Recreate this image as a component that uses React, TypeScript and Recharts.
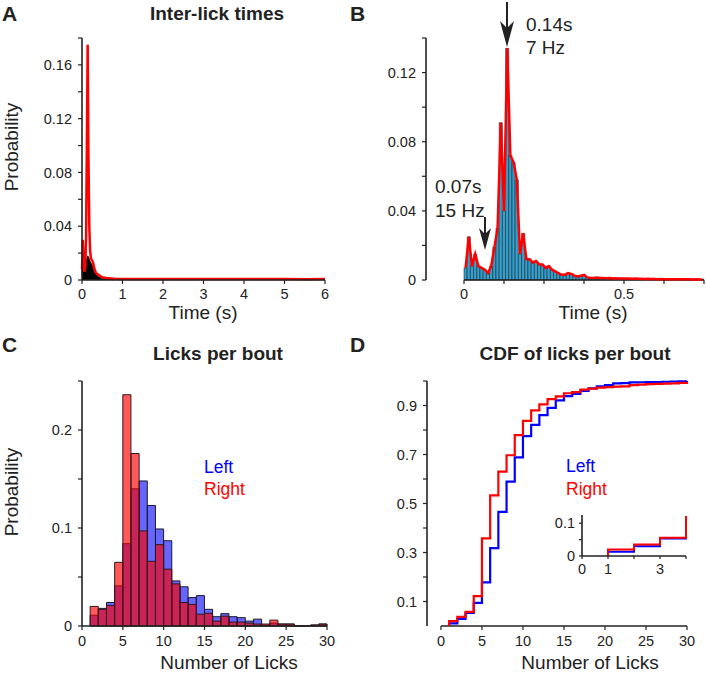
import React from 'react'
import { ComposedChart, LineChart, Bar, Line, Area, XAxis, YAxis, ReferenceLine } from 'recharts'

const FONT = 'Arial, "Liberation Sans", Helvetica, sans-serif'
const INK = '#222'
const RED = '#ff0000'
const BLUE = '#0000ff'

// A: inter-lick times over the full 0-6 s range
const ilTime = [0, 0.02, 0.04, 0.06, 0.08, 0.1, 0.12, 0.14, 0.16, 0.18, 0.2, 0.22, 0.24, 0.26, 0.28, 0.3, 0.32, 0.35, 0.4, 0.45, 0.5, 0.6, 0.8, 1, 1.5, 2, 2.5, 3, 3.5, 4, 4.5, 5, 5.5, 6]
const ilProb = [0.008, 0.03, 0.012, 0.006, 0.01, 0.03, 0.1, 0.175, 0.09, 0.04, 0.022, 0.016, 0.015, 0.014, 0.012, 0.009, 0.007, 0.005, 0.004, 0.003, 0.002, 0.0015, 0.001, 0.0008, 0.0008, 0.0007, 0.0008, 0.0007, 0.0007, 0.0008, 0.0007, 0.0008, 0.0006, 0.0007]
const ilHistTime = [0, 0.02, 0.04, 0.06, 0.08, 0.1, 0.12, 0.14, 0.16, 0.18, 0.2, 0.22, 0.24, 0.26, 0.28, 0.3, 0.34, 0.38, 0.42, 0.5, 0.6, 0.8]
const ilHistProb = [0.004, 0.018, 0.012, 0.008, 0.01, 0.013, 0.016, 0.018, 0.017, 0.015, 0.014, 0.012, 0.012, 0.01, 0.008, 0.006, 0.004, 0.003, 0.002, 0.001, 0.0005, 0.0002]
const aXTicks = [0, 1, 2, 3, 4, 5, 6]
const aYTicks = [0, 0.02, 0.04, 0.06, 0.08, 0.1, 0.12, 0.14, 0.16, 0.18]
const aYLabels = ['0', '', '0.04', '', '0.08', '', '0.12', '', '0.16', '']

// B: zoom on 0-0.75 s, 10 ms bins (centres in ms)
const binMs = [5, 15, 25, 35, 45, 55, 65, 75, 85, 95, 105, 115, 125, 135, 145, 155, 165, 175, 185, 195, 205, 215, 225, 235, 245, 255, 265, 275, 285, 295, 305, 315, 325, 335, 345, 355, 365, 375, 385, 395, 405, 415, 425, 435, 445, 455, 465, 475, 485, 495, 505, 515, 525, 535, 545, 555, 565, 575, 585, 595, 605, 615, 625, 635, 645, 655, 665, 675, 685, 695, 705, 715, 725, 735, 745]
const binProb = [0.007, 0.025, 0.008, 0.015, 0.008, 0.007, 0.006, 0.004, 0.008, 0.019, 0.03, 0.091, 0.04, 0.134, 0.072, 0.068, 0.058, 0.015, 0.027, 0.012, 0.012, 0.01, 0.011, 0.009, 0.009, 0.007, 0.008, 0.006, 0.005, 0.004, 0.003, 0.003, 0.004, 0.0035, 0.0025, 0.002, 0.0025, 0.003, 0.0015, 0.0013, 0.0012, 0.0014, 0.0011, 0.0012, 0.001, 0.0011, 0.0009, 0.001, 0.0009, 0.0008, 0.0009, 0.0008, 0.0007, 0.0008, 0.0007, 0.0007, 0.0006, 0.0007, 0.0006, 0.0006, 0.0005, 0.0006, 0.0005, 0.0005, 0.0005, 0.0004, 0.0005, 0.0004, 0.0004, 0.0004, 0.0004, 0.0003, 0.0004, 0.0003, 0.0003]
const bXTicks = [0, 0.125, 0.25, 0.375, 0.5, 0.625, 0.75]
const bXLabels = ['0', '', '', '', '0.5', '', '']
const bYTicks = [0, 0.02, 0.04, 0.06, 0.08, 0.1, 0.12, 0.14]
const bYLabels = ['0', '', '0.04', '', '0.08', '', '0.12', '']

// C: licks per bout histogram (bin centres)
const lickBins = [1.5, 2.5, 3.5, 4.5, 5.5, 6.5, 7.5, 8.5, 9.5, 10.5, 11.5, 12.5, 13.5, 14.5, 15.5, 16.5, 17.5, 18.5, 19.5, 20.5, 21.5, 22.5, 23.5, 24.5, 25.5, 26.5, 27.5, 28.5, 29.5]
const leftProb = [0.011, 0.018, 0.024, 0.041, 0.084, 0.14, 0.148, 0.123, 0.099, 0.087, 0.046, 0.04, 0.029, 0.031, 0.017, 0.0095, 0.0126, 0.0095, 0.0085, 0.005, 0.007, 0.001, 0.003, 0.002, 0.002, 0.0003, 0.0005, 0.001, 0.002]
const rightProb = [0.02, 0.017, 0.021, 0.065, 0.236, 0.176, 0.097, 0.066, 0.083, 0.058, 0.043, 0.024, 0.022, 0.012, 0.013, 0.005, 0.01, 0.004, 0.004, 0.003, 0.002, 0.002, 0.006, 0.002, 0.002, 0.0003, 0.0005, 0.001, 0.002]
const lickTicks = [0, 5, 10, 15, 20, 25, 30]
const cYTicks = [0, 0.05, 0.1, 0.15, 0.2, 0.25]
const cYLabels = ['0', '', '0.1', '', '0.2', '']

// D: CDF of licks per bout
const cdfX = [1, 1, 2, 3, 4, 5, 6, 7, 8, 9, 10, 11, 12, 13, 14, 15, 16, 17, 18, 19, 20, 21, 22, 23, 24, 25, 26, 27, 28, 29, 30]
const cdfLeft = [0, 0.011, 0.029, 0.053, 0.094, 0.178, 0.318, 0.466, 0.589, 0.688, 0.775, 0.821, 0.861, 0.89, 0.921, 0.938, 0.947, 0.96, 0.97, 0.978, 0.983, 0.99, 0.991, 0.994, 0.995, 0.996, 0.996, 0.997, 0.998, 0.999, 1.0]
const cdfRight = [0, 0.02, 0.037, 0.058, 0.122, 0.358, 0.533, 0.63, 0.697, 0.779, 0.837, 0.88, 0.905, 0.926, 0.937, 0.95, 0.955, 0.965, 0.969, 0.973, 0.975, 0.977, 0.978, 0.983, 0.985, 0.987, 0.988, 0.989, 0.99, 0.992, 0.995]
const dYTicks = [0.1, 0.2, 0.3, 0.4, 0.5, 0.6, 0.7, 0.8, 0.9, 1]
const dYLabels = ['0.1', '', '0.3', '', '0.5', '', '0.7', '', '0.9', '']
const insetX = [1, 1, 2, 3, 4]
const insetLeft = [0, 0.013, 0.03, 0.053, 0.094]
const insetRight = [0, 0.02, 0.035, 0.056, 0.122]
const insetXTicks = [0, 1, 2, 3, 4]
const insetXLabels = ['0', '1', '', '3', '']
const insetYTicks = [0, 0.05, 0.1]
const insetYLabels = ['0', '', '0.1']

const fmt = (ticks: number[], labels: string[]) => (v: number) => labels[ticks.indexOf(v)] ?? ''

const axisLine = { stroke: INK, strokeWidth: 1.6 }
const tickLine = { stroke: INK, strokeWidth: 1.2 }
const tick = { fontSize: 14.5, fill: INK }

function PanelA() {
  const hist = ilHistTime.map((t, i) => ({ t, p: ilHistProb[i] }))
  const line = ilTime.map((t, i) => ({ t, p: ilProb[i] }))
  return (
    <ComposedChart width={345} height={310} margin={{ top: 38, right: 20, bottom: 0, left: 0 }}>
      <XAxis type="number" dataKey="t" domain={[0, 6]} ticks={aXTicks} interval={0} height={30}
        tickSize={4} tickMargin={5} axisLine={axisLine} tickLine={tickLine} tick={tick} />
      <YAxis type="number" domain={[0, 0.18]} ticks={aYTicks} interval={0} width={82}
        tickSize={4} tickMargin={6} axisLine={axisLine} tickLine={tickLine} tick={tick}
        tickFormatter={fmt(aYTicks, aYLabels)} />
      <Area data={hist} dataKey="p" type="linear" stroke="#000" strokeWidth={1} fill="#000" fillOpacity={1} isAnimationActive={false} />
      <Line data={line} dataKey="p" type="linear" stroke={RED} strokeWidth={2.5} dot={false} isAnimationActive={false} />
    </ComposedChart>
  )
}

function PanelB() {
  const data = binMs.map((ms, i) => ({ t: ms / 1000, p: binProb[i] }))
  return (
    <ComposedChart width={366} height={310} data={data} margin={{ top: 38, right: 2, bottom: 0, left: 0 }}>
      <XAxis type="number" dataKey="t" domain={[-0.11875, 0.75]} ticks={bXTicks} interval={0} height={30}
        tickSize={4} tickMargin={5} axisLine={false} tickLine={tickLine} tick={tick}
        tickFormatter={fmt(bXTicks, bXLabels)} />
      <YAxis type="number" domain={[0, 0.14]} ticks={bYTicks} interval={0} width={86}
        tickSize={4} tickMargin={6} axisLine={axisLine} tickLine={tickLine} tick={tick}
        tickFormatter={fmt(bYTicks, bYLabels)} />
      <ReferenceLine segment={[{ x: 0, y: 0 }, { x: 0.75, y: 0 }]} stroke={INK} strokeWidth={1.6} />
      <Bar dataKey="p" barSize={3.15} fill="#33a1d0" stroke="#111" strokeWidth={0.5} isAnimationActive={false} />
      <Line dataKey="p" type="linear" stroke={RED} strokeWidth={2.5} dot={false} isAnimationActive={false} />
    </ComposedChart>
  )
}

function PanelC() {
  const data = lickBins.map((x, i) => ({ x, left: leftProb[i], right: rightProb[i] }))
  return (
    <ComposedChart width={345} height={326} data={data} margin={{ top: 51, right: 18, bottom: 0, left: 0 }}>
      <XAxis xAxisId="l" type="number" dataKey="x" domain={[0, 30]} ticks={lickTicks} interval={0} height={30}
        tickSize={4} tickMargin={6} axisLine={axisLine} tickLine={tickLine} tick={tick} />
      <XAxis xAxisId="r" type="number" dataKey="x" domain={[0, 30]} hide />
      <YAxis type="number" domain={[0, 0.25]} ticks={cYTicks} interval={0} width={82}
        tickSize={4} tickMargin={6} axisLine={axisLine} tickLine={tickLine} tick={tick}
        tickFormatter={fmt(cYTicks, cYLabels)} />
      <Bar xAxisId="l" dataKey="left" barSize={8.1} fill={BLUE} fillOpacity={0.6} stroke="#1a1a2a" strokeWidth={1} isAnimationActive={false} />
      <Bar xAxisId="r" dataKey="right" barSize={8.1} fill={RED} fillOpacity={0.65} stroke="#2a1a1a" strokeWidth={1} isAnimationActive={false} />
    </ComposedChart>
  )
}

function PanelD() {
  const data = cdfX.map((x, i) => ({ x, left: cdfLeft[i], right: cdfRight[i] }))
  return (
    <LineChart width={366} height={326} data={data} margin={{ top: 51, right: 19, bottom: 0, left: 0 }}>
      <XAxis type="number" dataKey="x" domain={[-1.7, 30]} ticks={lickTicks} interval={0} height={30}
        tickSize={4} tickMargin={6} axisLine={false} tickLine={tickLine} tick={tick} />
      <YAxis type="number" domain={[0, 1]} ticks={dYTicks} interval={0} width={87}
        tickSize={4} tickMargin={6} axisLine={axisLine} tickLine={tickLine} tick={tick}
        tickFormatter={fmt(dYTicks, dYLabels)} />
      <ReferenceLine segment={[{ x: 0, y: 0 }, { x: 30, y: 0 }]} stroke={INK} strokeWidth={1.6} />
      <Line dataKey="left" type="stepAfter" stroke={BLUE} strokeWidth={2.2} dot={false} isAnimationActive={false} />
      <Line dataKey="right" type="stepAfter" stroke={RED} strokeWidth={2.2} dot={false} isAnimationActive={false} />
    </LineChart>
  )
}

function Inset() {
  const data = insetX.map((x, i) => ({ x, left: insetLeft[i], right: insetRight[i] }))
  return (
    <LineChart width={166} height={86} data={data} margin={{ top: 15, right: 20, bottom: 0, left: 0 }}>
      <XAxis type="number" dataKey="x" domain={[0, 4]} ticks={insetXTicks} interval={0} height={30}
        tickSize={3} tickMargin={5} axisLine={axisLine} tickLine={tickLine} tick={tick}
        tickFormatter={fmt(insetXTicks, insetXLabels)} />
      <YAxis type="number" domain={[0, 0.125]} ticks={insetYTicks} interval={0} width={42}
        tickSize={3} tickMargin={4} axisLine={axisLine} tickLine={tickLine} tick={tick}
        tickFormatter={fmt(insetYTicks, insetYLabels)} />
      <Line dataKey="left" type="stepAfter" stroke={BLUE} strokeWidth={2} dot={false} isAnimationActive={false} />
      <Line dataKey="right" type="stepAfter" stroke={RED} strokeWidth={2} dot={false} isAnimationActive={false} />
    </LineChart>
  )
}

const at = (left: number, top: number): React.CSSProperties => ({ position: 'absolute', left, top })

export default function App() {
  return (
    <div style={{ position: 'absolute', left: 0, top: 0, width: 706, height: 676, background: '#fff', fontFamily: FONT, color: INK }}>
      <div style={at(0, 0)}><PanelA /></div>
      <div style={at(340, 0)}><PanelB /></div>
      <div style={at(0, 330)}><PanelC /></div>
      <div style={at(340, 330)}><PanelD /></div>
      <div style={at(540, 500)}><Inset /></div>
      <svg width={706} height={676} style={{ position: 'absolute', left: 0, top: 0, pointerEvents: 'none' }} fontFamily={FONT} fill={INK}>
        <g fontSize={21} fontWeight="bold">
          <text x={2} y={21}>A</text>
          <text x={350} y={21}>B</text>
          <text x={2} y={352}>C</text>
          <text x={350} y={352}>D</text>
        </g>
        <g fontSize={19} fontWeight="bold" textAnchor="middle">
          <text x={217} y={20}>Inter-lick times</text>
          <text x={218} y={360}>Licks per bout</text>
          <text x={575} y={360}>CDF of licks per bout</text>
        </g>
        <g fontSize={19} textAnchor="middle">
          <text transform="translate(18,147) rotate(-90)">Probability</text>
          <text transform="translate(18,492) rotate(-90)">Probability</text>
          <text x={203} y={319}>Time (s)</text>
          <text x={593} y={319}>Time (s)</text>
          <text x={229} y={669}>Number of Licks</text>
          <text x={590} y={669}>Number of Licks</text>
        </g>
        <g fontSize={17.5}>
          <text x={204} y={473} fill={BLUE}>Left</text>
          <text x={204} y={495} fill={RED}>Right</text>
          <text x={566} y={472} fill={BLUE}>Left</text>
          <text x={566} y={495} fill={RED}>Right</text>
        </g>
        <g fontSize={19}>
          <text x={526} y={31}>0.14s</text>
          <text x={526} y={54}>7 Hz</text>
          <text x={435} y={193}>0.07s</text>
          <text x={435} y={217}>15 Hz</text>
        </g>
        <g stroke={INK} strokeWidth={2}>
          <line x1={507} y1={2} x2={507} y2={30} />
          <line x1={485} y1={217} x2={485} y2={236} />
        </g>
        <polygon points="500,21 507,28 514,21 507,47" fill={INK} />
        <polygon points="479,228 485,234 491,228 485,250" fill={INK} />
      </svg>
    </div>
  )
}
